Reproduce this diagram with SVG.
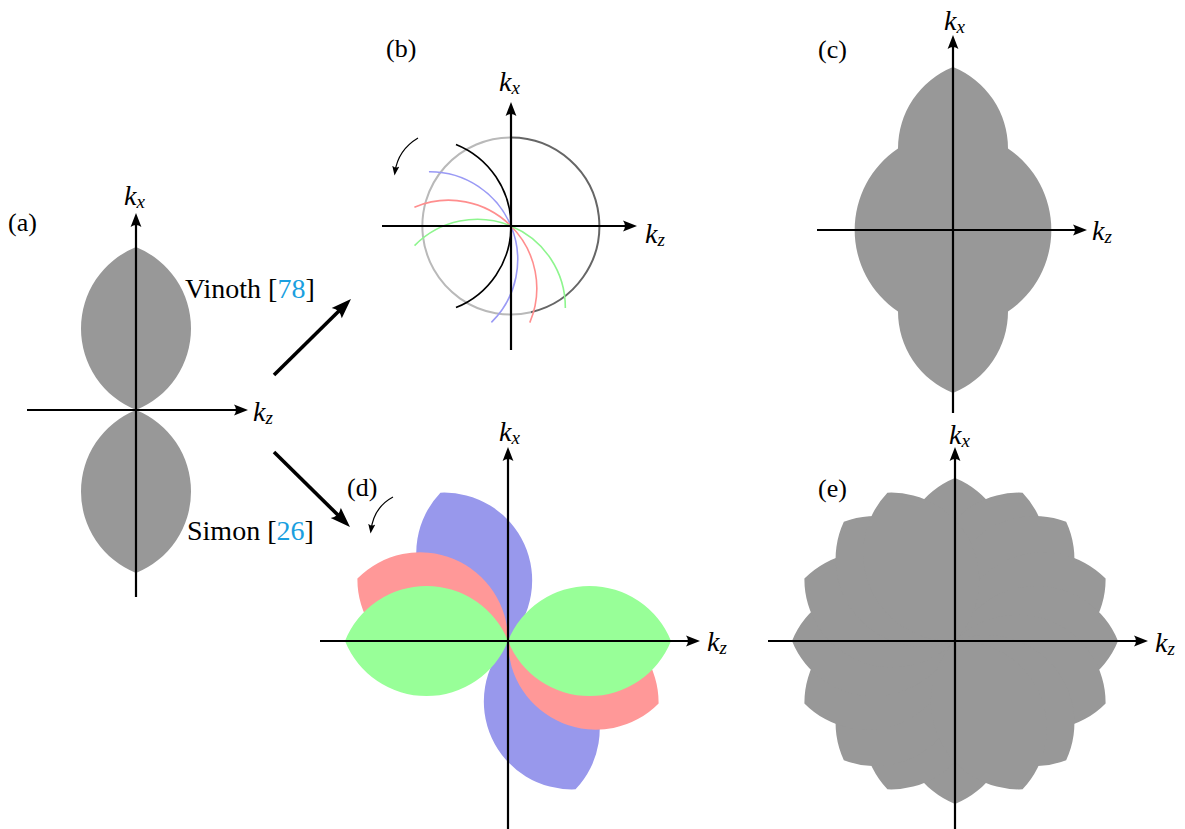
<svg xmlns="http://www.w3.org/2000/svg" xmlns:xlink="http://www.w3.org/1999/xlink" width="1185" height="829" viewBox="0 0 1185 829">
<style>
.lab{font-family:"Liberation Serif","Times New Roman",serif;font-size:26px;fill:#000}
.name{font-size:28px}
.it{font-style:italic;font-size:28px}
.sub{font-size:19px}
.cite{fill:#1a9fe0}
.axis{stroke:#000;stroke-width:2.2;fill:none;marker-end:url(#ah)}
.big{stroke:#000;stroke-width:3.6;fill:none;marker-end:url(#bh)}
.rot{stroke:#000;stroke-width:1.2;fill:none;marker-end:url(#sh)}
.gray{fill:#989898}
.arc{fill:none;stroke-width:1.6}
</style>
<defs>
<marker id="ah" markerUnits="userSpaceOnUse" viewBox="0 0 16 12" markerWidth="16" markerHeight="12" refX="10" refY="6" orient="auto"><path d="M15,6 L1,0.6 Q5,6 1,11.4 Z" fill="#000"/></marker>
<marker id="bh" markerUnits="userSpaceOnUse" viewBox="0 0 22 16" markerWidth="22" markerHeight="16" refX="14" refY="8" orient="auto"><path d="M21,8 L1,0.8 Q6,8 1,15.2 Z" fill="#000"/></marker>
<marker id="sh" markerUnits="userSpaceOnUse" viewBox="0 0 10 8" markerWidth="10" markerHeight="8" refX="6" refY="4" orient="auto"><path d="M9.5,4 L0,0.4 Q3,4 0,7.6 Z" fill="#000"/></marker>
<path id="lens" d="M0,0 A87.88,87.88 0 0 1 0,-163 A87.88,87.88 0 0 1 0,0 Z M0,0 A87.88,87.88 0 0 1 0,163 A87.88,87.88 0 0 1 0,0 Z"/>
<path id="ewald" d="M-55.03,-81.59 A88,88 0 0 1 -55.03,81.59"/>
</defs>

<g id="panel-a">
<use href="#lens" class="gray" transform="translate(136,410)"/>
<line class="axis" x1="136" y1="597" x2="136" y2="218"/>
<line class="axis" x1="27" y1="410" x2="243" y2="410"/>
<text class="lab" x="8" y="231">(a)</text>
<text class="lab it" x="124" y="205">k<tspan class="sub" dy="3">x</tspan></text>
<text class="lab it" x="253" y="421">k<tspan class="sub" dy="3">z</tspan></text>
<text class="lab name" x="185" y="298">Vinoth [<tspan class="cite">78</tspan>]</text>
<text class="lab name" x="187" y="540">Simon [<tspan class="cite">26</tspan>]</text>
</g>

<g id="panel-b">
<path d="M511,137.5 A88.5,88.5 0 1 0 530.9,312.2" fill="none" stroke="#b9b9b9" stroke-width="2"/>
<path d="M511,137.5 A88.5,88.5 0 0 1 530.9,312.2" fill="none" stroke="#666" stroke-width="2"/>
<g transform="translate(511,226)">
<use href="#ewald" class="arc" stroke="#9a9af5" transform="rotate(-22.5)"/>
<use href="#ewald" class="arc" stroke="#ff8e8e" transform="rotate(-45)"/>
<use href="#ewald" class="arc" stroke="#8ef58e" transform="rotate(-67.5)"/>
<use href="#ewald" class="arc" stroke="#000" stroke-width="2"/>
</g>
<line class="axis" x1="511" y1="350" x2="511" y2="107"/>
<line class="axis" x1="382" y1="226" x2="632" y2="226"/>
<path class="rot" d="M418,138 Q398,150 395,172"/>
<text class="lab" x="386" y="57">(b)</text>
<text class="lab it" x="499" y="91">k<tspan class="sub" dy="3">x</tspan></text>
<text class="lab it" x="645" y="243">k<tspan class="sub" dy="3">z</tspan></text>
</g>

<g id="panel-c">
<path class="gray" d="M953,67 A87.88,87.88 0 0 1 1008,148.5 A98.3,98.3 0 0 1 1008,311.5 A87.88,87.88 0 0 1 953,393 A87.88,87.88 0 0 1 898,311.5 A98.3,98.3 0 0 1 898,148.5 A87.88,87.88 0 0 1 953,67 Z"/>
<line class="axis" x1="953" y1="413" x2="953" y2="40"/>
<line class="axis" x1="817" y1="230" x2="1082" y2="230"/>
<text class="lab" x="818" y="58">(c)</text>
<text class="lab it" x="944" y="30">k<tspan class="sub" dy="3">x</tspan></text>
<text class="lab it" x="1092" y="240">k<tspan class="sub" dy="3">z</tspan></text>
</g>

<g id="panel-d">
<g transform="translate(508,641)">
<use href="#lens" fill="#9898ec" transform="rotate(-24.5)"/>
<use href="#lens" fill="#ff9898" transform="rotate(-67.5)"/>
<use href="#lens" fill="#98ff98" transform="rotate(90)"/>
</g>
<line class="axis" x1="508" y1="829" x2="508" y2="452"/>
<line class="axis" x1="320" y1="641" x2="695" y2="641"/>
<path class="rot" d="M393,497 Q374,507 371,530"/>
<text class="lab" x="347" y="496">(d)</text>
<text class="lab it" x="499" y="441">k<tspan class="sub" dy="3">x</tspan></text>
<text class="lab it" x="707" y="651">k<tspan class="sub" dy="3">z</tspan></text>
</g>

<g id="panel-e">
<g transform="translate(955,641)" class="gray">
<use href="#lens"/>
<use href="#lens" transform="rotate(24.5)"/>
<use href="#lens" transform="rotate(43)"/>
<use href="#lens" transform="rotate(67.5)"/>
<use href="#lens" transform="rotate(90)"/>
<use href="#lens" transform="rotate(-67.5)"/>
<use href="#lens" transform="rotate(-43)"/>
<use href="#lens" transform="rotate(-24.5)"/>
</g>
<line class="axis" x1="955" y1="829" x2="955" y2="452"/>
<line class="axis" x1="768" y1="641" x2="1143" y2="641"/>
<text class="lab" x="818" y="497">(e)</text>
<text class="lab it" x="949" y="444">k<tspan class="sub" dy="3">x</tspan></text>
<text class="lab it" x="1155" y="652">k<tspan class="sub" dy="3">z</tspan></text>
</g>

<g id="connectors">
<line class="big" x1="274" y1="375" x2="346" y2="304"/>
<line class="big" x1="274" y1="452" x2="345" y2="522"/>
</g>
</svg>
